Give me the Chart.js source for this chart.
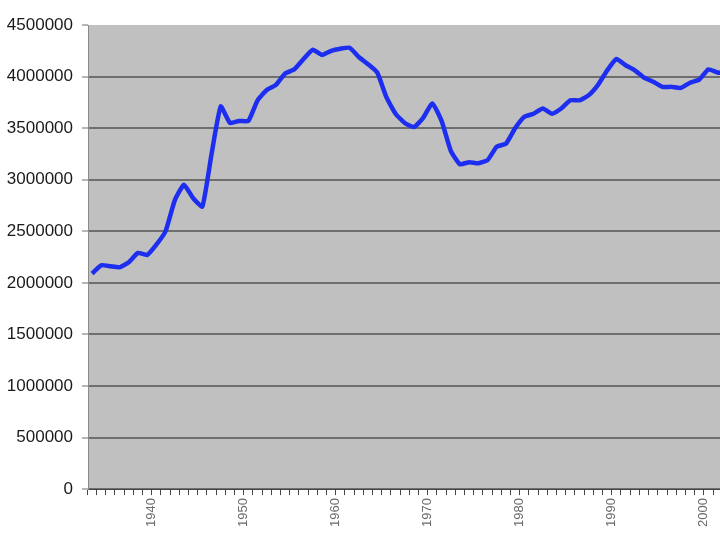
<!DOCTYPE html>
<html>
<head>
<meta charset="utf-8">
<script src="https://cdn.jsdelivr.net/npm/chart.js@4.4.0/dist/chart.umd.min.js"></script>
<style>
  html, body { margin: 0; padding: 0; background: #ffffff; }
  #wrap { width: 720px; height: 540px; }
</style>
</head>
<body>
<div id="wrap"><canvas id="chart" width="720" height="540"></canvas></div>
<script>
// Yearly values
const years = [
  1933, 1934, 1935, 1936, 1937, 1938, 1939, 1940, 1941, 1942,
  1943, 1944, 1945, 1946, 1947, 1948, 1949, 1950, 1951, 1952,
  1953, 1954, 1955, 1956, 1957, 1958, 1959, 1960, 1961, 1962,
  1963, 1964, 1965, 1966, 1967, 1968, 1969, 1970, 1971, 1972,
  1973, 1974, 1975, 1976, 1977, 1978, 1979, 1980, 1981, 1982,
  1983, 1984, 1985, 1986, 1987, 1988, 1989, 1990, 1991, 1992,
  1993, 1994, 1995, 1996, 1997, 1998, 1999, 2000, 2001, 2002
];
const values = [
  2090000, 2170000, 2160000, 2150000, 2200000, 2290000, 2270000, 2370000, 2500000, 2800000,
  2950000, 2820000, 2740000, 3250000, 3710000, 3550000, 3570000, 3570000, 3770000, 3870000,
  3920000, 4030000, 4070000, 4170000, 4260000, 4210000, 4250000, 4270000, 4280000, 4190000,
  4120000, 4040000, 3800000, 3640000, 3550000, 3510000, 3600000, 3740000, 3570000, 3280000,
  3150000, 3170000, 3160000, 3190000, 3320000, 3350000, 3500000, 3610000, 3640000, 3690000,
  3640000, 3690000, 3770000, 3770000, 3820000, 3920000, 4060000, 4170000, 4110000, 4060000,
  3990000, 3950000, 3900000, 3900000, 3890000, 3940000, 3970000, 4070000, 4040000, 4030000
];
const yTicks = [0, 500000, 1000000, 1500000, 2000000, 2500000, 3000000, 3500000, 4000000, 4500000];
const decadeLabels = [1940, 1950, 1960, 1970, 1980, 1990, 2000];

// grey plot background
const plotBackground = {
  id: 'plotBackground',
  beforeDraw(chart) {
    const { ctx, chartArea: a } = chart;
    ctx.save();
    ctx.fillStyle = '#c0c0c0';
    ctx.fillRect(a.left, a.top, a.right - a.left, a.bottom - a.top);
    ctx.restore();
  }
};

new Chart(document.getElementById('chart'), {
  type: 'line',
  data: {
    datasets: [{
      data: years.map((y, i) => ({ x: y, y: values[i] })),
      borderColor: '#1e2ef0',
      borderWidth: 4.5,
      pointRadius: 0,
      tension: 0.15,
      fill: false
    }]
  },
  options: {
    responsive: false,
    animation: false,
    layout: { padding: { left: 4, top: 25, right: 0, bottom: 10 } },
    plugins: { legend: { display: false }, tooltip: { enabled: false } },
    scales: {
      x: {
        type: 'linear',
        min: 1932.57,
        max: 2001.26,
        afterBuildTicks(scale) {
          // tick marks sit between the yearly categories
          scale.ticks = years.map(y => ({ value: y - 0.5 }));
        },
        afterFit(scale) {
          scale.paddingLeft = 0;
          scale.paddingRight = 0;
        },
        grid: {
          drawOnChartArea: false,
          drawTicks: true,
          tickLength: 6,
          tickColor: '#444444',
          tickWidth: 1
        },
        border: { display: true, color: '#444444', width: 1 },
        ticks: {
          autoSkip: false,
          minRotation: 90,
          maxRotation: 90,
          padding: 3,
          color: '#6a6a6a',
          font: { family: 'Liberation Sans', size: 13 },
          callback(value) {
            const y = Math.round(value + 0.5);
            return decadeLabels.includes(y) ? String(y) : '';
          }
        }
      },
      y: {
        min: 0,
        max: 4500000,
        afterBuildTicks(scale) {
          scale.ticks = yTicks.map(v => ({ value: v }));
        },
        afterFit(scale) {
          scale.width = 84;
          scale.paddingTop = 0;
          scale.paddingBottom = 0;
        },
        grid: {
          color(ctx) {
            return ctx.tick && ctx.tick.value === 4500000 ? 'rgba(0,0,0,0)' : '#6e6e6e';
          },
          lineWidth: 2,
          tickLength: 6,
          tickColor: '#6e6e6e',
          tickWidth: 1
        },
        border: { display: true, color: '#8a8a8a', width: 1 },
        ticks: {
          padding: 9,
          color: '#1a1a1a',
          font: { family: 'Liberation Sans', size: 17 },
          callback(value) { return String(value); }
        }
      }
    }
  },
  plugins: [plotBackground]
});
</script>
</body>
</html>
